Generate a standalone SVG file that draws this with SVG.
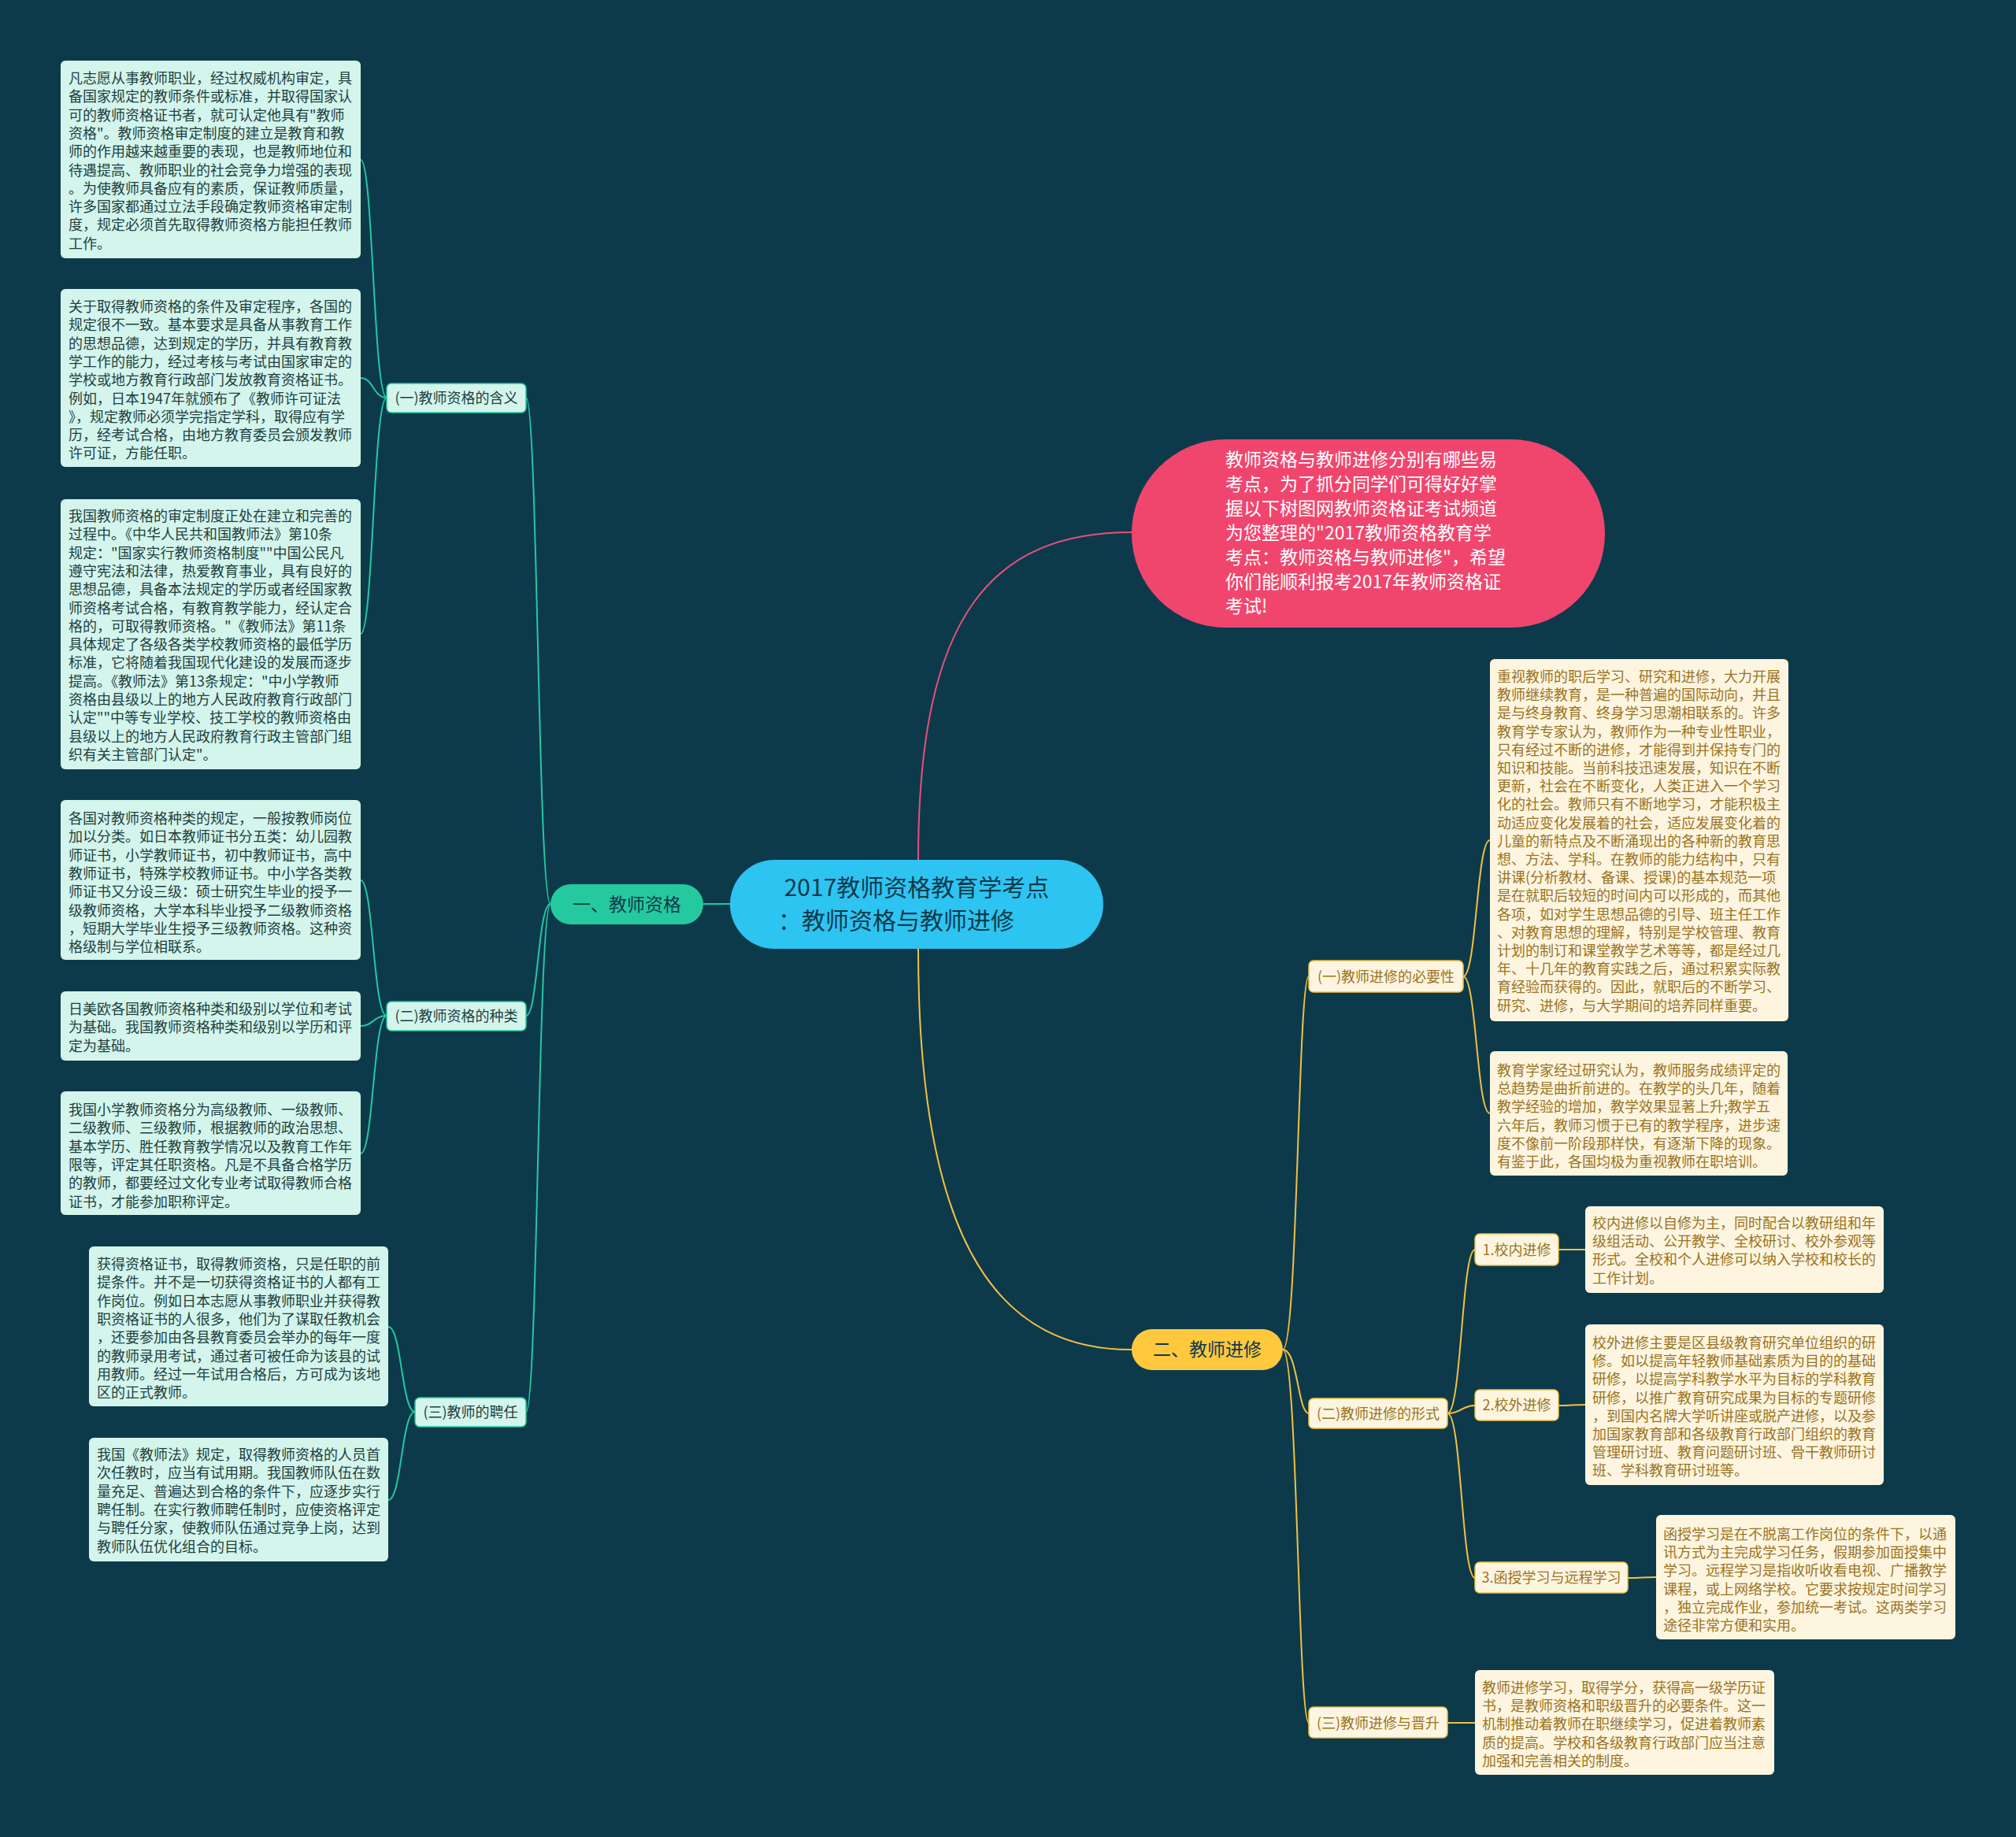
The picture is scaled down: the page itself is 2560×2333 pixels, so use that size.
<svg xmlns="http://www.w3.org/2000/svg" width="2560" height="2333" viewBox="0 0 2560 2333">
<style>
text{font-family:"Noto Sans CJK SC","Noto Sans",sans-serif}
.bg{fill:#0d3a4b}
.lbox{fill:#d3f5ec}
.ltxt{font-size:18px;fill:#1f3f40}
.rbox{fill:#fdf5e0}
.rtxt{font-size:18px;fill:#9a7322}
.llab{fill:#d3f5ec;stroke:#25c7a0;stroke-width:1.5}
.rlab{fill:#fdf5e0;stroke:#f2c043;stroke-width:1.5}
.labt{font-size:18px;text-anchor:middle}
.gl{fill:none;stroke:#25c7a0;stroke-width:2}
.yl{fill:none;stroke:#f2c043;stroke-width:2}
.pl{fill:none;stroke:#e8507a;stroke-width:2}
</style>
<rect class="bg" x="0" y="0" width="2560" height="2333"/>
<g id="connectors">
<path class="pl" d="M1166 1092 C1166 780 1260 676 1437 676"/>
<path class="yl" d="M1166 1205 C1166 1600 1280 1714 1437 1714"/>
<path class="gl" d="M927 1148 L893 1148"/>
<path class="gl" d="M699 1148 C683 1148 683 505 668 505"/>
<path class="gl" d="M699 1148 C683 1148 683 1290 668 1290"/>
<path class="gl" d="M699 1148 C683 1148 683 1793 668 1793"/>
<path class="gl" d="M491 505 C474 505 474 203 458 203"/>
<path class="gl" d="M491 505 C474 505 474 480 458 480"/>
<path class="gl" d="M491 505 C474 505 474 805 458 805"/>
<path class="gl" d="M491 1290 C474 1290 474 1118 458 1118"/>
<path class="gl" d="M491 1290 C474 1290 474 1303 458 1303"/>
<path class="gl" d="M491 1290 C474 1290 474 1465 458 1465"/>
<path class="gl" d="M527 1793 C510 1793 510 1685 493 1685"/>
<path class="gl" d="M527 1793 C510 1793 510 1905 493 1905"/>
<path class="yl" d="M1629 1714 C1648 1714 1648 1240 1662 1240"/>
<path class="yl" d="M1629 1714 C1648 1714 1648 1795 1662 1795"/>
<path class="yl" d="M1629 1714 C1648 1714 1648 2188 1662 2188"/>
<path class="yl" d="M1858 1240 C1875 1240 1875 1067 1892 1067"/>
<path class="yl" d="M1858 1240 C1875 1240 1875 1414 1892 1414"/>
<path class="yl" d="M1838 1795 C1856 1795 1856 1587 1873 1587"/>
<path class="yl" d="M1838 1795 C1856 1795 1856 1785 1873 1785"/>
<path class="yl" d="M1838 1795 C1856 1795 1856 2004 1873 2004"/>
<path class="yl" d="M1979 1587 C1996 1587 1996 1587 2013 1587"/>
<path class="yl" d="M1979 1785 C1996 1785 1996 1784 2013 1784"/>
<path class="yl" d="M2067 2004 C2085 2004 2085 2003 2103 2003"/>
<path class="yl" d="M1838 2188 C1856 2188 1856 2188 1873 2188"/>
</g>
<g id="center">
<rect x="927" y="1092" width="474" height="113" rx="56.5" fill="#2ec4f2"/>
<text x="1164" y="1138" font-size="30" fill="#0d3a4b" text-anchor="middle">2017教师资格教育学考点</text>
<text x="988" y="1180" font-size="30" fill="#0d3a4b">：教师资格与教师进修</text>
</g>
<g id="intro">
<rect x="1437" y="558" width="601" height="239" rx="119.5" fill="#f0466e"/>
<text class="pt" x="1556" y="592" font-size="23" fill="#ffffff">
<tspan x="1556" dy="0">教师资格与教师进修分别有哪些易</tspan>
<tspan x="1556" dy="31">考点，为了抓分同学们可得好好掌</tspan>
<tspan x="1556" dy="31">握以下树图网教师资格证考试频道</tspan>
<tspan x="1556" dy="31">为您整理的"2017教师资格教育学</tspan>
<tspan x="1556" dy="31">考点：教师资格与教师进修"，希望</tspan>
<tspan x="1556" dy="31">你们能顺利报考2017年教师资格证</tspan>
<tspan x="1556" dy="31">考试!</tspan>
</text>
</g>
<g id="n1">
<rect x="699" y="1123" width="194" height="51" rx="25.5" fill="#25c9a0"/>
<text x="796" y="1157" font-size="23" fill="#0d3a4b" text-anchor="middle">一、教师资格</text>
</g>
<g id="n2">
<rect x="1437" y="1688" width="192" height="52" rx="26" fill="#ffc83d"/>
<text x="1533" y="1722" font-size="23" fill="#0d3a4b" text-anchor="middle">二、教师进修</text>
</g>
<g id="n1-1">
<rect class="llab" x="491" y="487" width="177" height="37" rx="6"/>
<text class="labt" x="579.5" y="512" fill="#1f3f40">(一)教师资格的含义</text>
</g>
<g id="n1-2">
<rect class="llab" x="491" y="1272" width="177" height="37" rx="6"/>
<text class="labt" x="579.5" y="1297" fill="#1f3f40">(二)教师资格的种类</text>
</g>
<g id="n1-3">
<rect class="llab" x="527" y="1775" width="141" height="37" rx="6"/>
<text class="labt" x="597.5" y="1800" fill="#1f3f40">(三)教师的聘任</text>
</g>
<g id="n2-1">
<rect class="rlab" x="1662" y="1220" width="196" height="40" rx="6"/>
<text class="labt" x="1760" y="1247" fill="#9a7322">(一)教师进修的必要性</text>
</g>
<g id="n2-2">
<rect class="rlab" x="1662" y="1776" width="176" height="38" rx="6"/>
<text class="labt" x="1750" y="1802" fill="#9a7322">(二)教师进修的形式</text>
</g>
<g id="n2-3">
<rect class="rlab" x="1662" y="2168" width="176" height="39" rx="6"/>
<text class="labt" x="1750" y="2195" fill="#9a7322">(三)教师进修与晋升</text>
</g>
<g id="n2-2-1">
<rect class="rlab" x="1873" y="1567" width="106" height="40" rx="6"/>
<text class="labt" x="1926" y="1594" fill="#9a7322">1.校内进修</text>
</g>
<g id="n2-2-2">
<rect class="rlab" x="1873" y="1765" width="106" height="39" rx="6"/>
<text class="labt" x="1926" y="1791" fill="#9a7322">2.校外进修</text>
</g>
<g id="n2-2-3">
<rect class="rlab" x="1873" y="1984" width="194" height="39" rx="6"/>
<text class="labt" x="1970" y="2010" fill="#9a7322">3.函授学习与远程学习</text>
</g>
<g id="b1">
<rect class="lbox" x="77" y="77" width="381" height="251" rx="6"/>
<text class="ltxt" y="106">
<tspan x="87" dy="0">凡志愿从事教师职业，经过权威机构审定，具</tspan>
<tspan x="87" dy="23.3">备国家规定的教师条件或标准，并取得国家认</tspan>
<tspan x="87" dy="23.3">可的教师资格证书者，就可认定他具有"教师</tspan>
<tspan x="87" dy="23.3">资格"。教师资格审定制度的建立是教育和教</tspan>
<tspan x="87" dy="23.3">师的作用越来越重要的表现，也是教师地位和</tspan>
<tspan x="87" dy="23.3">待遇提高、教师职业的社会竞争力增强的表现</tspan>
<tspan x="87" dy="23.3">。为使教师具备应有的素质，保证教师质量，</tspan>
<tspan x="87" dy="23.3">许多国家都通过立法手段确定教师资格审定制</tspan>
<tspan x="87" dy="23.3">度，规定必须首先取得教师资格方能担任教师</tspan>
<tspan x="87" dy="23.3">工作。</tspan>
</text>
</g>
<g id="b2">
<rect class="lbox" x="77" y="367" width="381" height="226" rx="6"/>
<text class="ltxt" y="396">
<tspan x="87" dy="0">关于取得教师资格的条件及审定程序，各国的</tspan>
<tspan x="87" dy="23.3">规定很不一致。基本要求是具备从事教育工作</tspan>
<tspan x="87" dy="23.3">的思想品德，达到规定的学历，并具有教育教</tspan>
<tspan x="87" dy="23.3">学工作的能力，经过考核与考试由国家审定的</tspan>
<tspan x="87" dy="23.3">学校或地方教育行政部门发放教育资格证书。</tspan>
<tspan x="87" dy="23.3">例如，日本1947年就颁布了《教师许可证法</tspan>
<tspan x="87" dy="23.3">》，规定教师必须学完指定学科，取得应有学</tspan>
<tspan x="87" dy="23.3">历，经考试合格，由地方教育委员会颁发教师</tspan>
<tspan x="87" dy="23.3">许可证，方能任职。</tspan>
</text>
</g>
<g id="b3">
<rect class="lbox" x="77" y="634" width="381" height="343" rx="6"/>
<text class="ltxt" y="662">
<tspan x="87" dy="0">我国教师资格的审定制度正处在建立和完善的</tspan>
<tspan x="87" dy="23.3">过程中。《中华人民共和国教师法》第10条</tspan>
<tspan x="87" dy="23.3">规定："国家实行教师资格制度""中国公民凡</tspan>
<tspan x="87" dy="23.3">遵守宪法和法律，热爱教育事业，具有良好的</tspan>
<tspan x="87" dy="23.3">思想品德，具备本法规定的学历或者经国家教</tspan>
<tspan x="87" dy="23.3">师资格考试合格，有教育教学能力，经认定合</tspan>
<tspan x="87" dy="23.3">格的，可取得教师资格。"《教师法》第11条</tspan>
<tspan x="87" dy="23.3">具体规定了各级各类学校教师资格的最低学历</tspan>
<tspan x="87" dy="23.3">标准，它将随着我国现代化建设的发展而逐步</tspan>
<tspan x="87" dy="23.3">提高。《教师法》第13条规定："中小学教师</tspan>
<tspan x="87" dy="23.3">资格由县级以上的地方人民政府教育行政部门</tspan>
<tspan x="87" dy="23.3">认定""中等专业学校、技工学校的教师资格由</tspan>
<tspan x="87" dy="23.3">县级以上的地方人民政府教育行政主管部门组</tspan>
<tspan x="87" dy="23.3">织有关主管部门认定"。</tspan>
</text>
</g>
<g id="b4">
<rect class="lbox" x="77" y="1016" width="381" height="203" rx="6"/>
<text class="ltxt" y="1046">
<tspan x="87" dy="0">各国对教师资格种类的规定，一般按教师岗位</tspan>
<tspan x="87" dy="23.3">加以分类。如日本教师证书分五类：幼儿园教</tspan>
<tspan x="87" dy="23.3">师证书，小学教师证书，初中教师证书，高中</tspan>
<tspan x="87" dy="23.3">教师证书，特殊学校教师证书。中小学各类教</tspan>
<tspan x="87" dy="23.3">师证书又分设三级：硕士研究生毕业的授予一</tspan>
<tspan x="87" dy="23.3">级教师资格，大学本科毕业授予二级教师资格</tspan>
<tspan x="87" dy="23.3">，短期大学毕业生授予三级教师资格。这种资</tspan>
<tspan x="87" dy="23.3">格级制与学位相联系。</tspan>
</text>
</g>
<g id="b5">
<rect class="lbox" x="77" y="1259" width="381" height="88" rx="6"/>
<text class="ltxt" y="1288">
<tspan x="87" dy="0">日美欧各国教师资格种类和级别以学位和考试</tspan>
<tspan x="87" dy="23.3">为基础。我国教师资格种类和级别以学历和评</tspan>
<tspan x="87" dy="23.3">定为基础。</tspan>
</text>
</g>
<g id="b6">
<rect class="lbox" x="77" y="1386" width="381" height="157" rx="6"/>
<text class="ltxt" y="1416">
<tspan x="87" dy="0">我国小学教师资格分为高级教师、一级教师、</tspan>
<tspan x="87" dy="23.3">二级教师、三级教师，根据教师的政治思想、</tspan>
<tspan x="87" dy="23.3">基本学历、胜任教育教学情况以及教育工作年</tspan>
<tspan x="87" dy="23.3">限等，评定其任职资格。凡是不具备合格学历</tspan>
<tspan x="87" dy="23.3">的教师，都要经过文化专业考试取得教师合格</tspan>
<tspan x="87" dy="23.3">证书，才能参加职称评定。</tspan>
</text>
</g>
<g id="b7">
<rect class="lbox" x="113" y="1583" width="380" height="203" rx="6"/>
<text class="ltxt" y="1612">
<tspan x="123" dy="0">获得资格证书，取得教师资格，只是任职的前</tspan>
<tspan x="123" dy="23.3">提条件。并不是一切获得资格证书的人都有工</tspan>
<tspan x="123" dy="23.3">作岗位。例如日本志愿从事教师职业并获得教</tspan>
<tspan x="123" dy="23.3">职资格证书的人很多，他们为了谋取任教机会</tspan>
<tspan x="123" dy="23.3">，还要参加由各县教育委员会举办的每年一度</tspan>
<tspan x="123" dy="23.3">的教师录用考试，通过者可被任命为该县的试</tspan>
<tspan x="123" dy="23.3">用教师。经过一年试用合格后，方可成为该地</tspan>
<tspan x="123" dy="23.3">区的正式教师。</tspan>
</text>
</g>
<g id="b8">
<rect class="lbox" x="113" y="1826" width="380" height="157" rx="6"/>
<text class="ltxt" y="1854">
<tspan x="123" dy="0">我国《教师法》规定，取得教师资格的人员首</tspan>
<tspan x="123" dy="23.3">次任教时，应当有试用期。我国教师队伍在数</tspan>
<tspan x="123" dy="23.3">量充足、普遍达到合格的条件下，应逐步实行</tspan>
<tspan x="123" dy="23.3">聘任制。在实行教师聘任制时，应使资格评定</tspan>
<tspan x="123" dy="23.3">与聘任分家，使教师队伍通过竞争上岗，达到</tspan>
<tspan x="123" dy="23.3">教师队伍优化组合的目标。</tspan>
</text>
</g>
<g id="r1">
<rect class="rbox" x="1892" y="837" width="379" height="460" rx="6"/>
<text class="rtxt" y="866">
<tspan x="1901" dy="0">重视教师的职后学习、研究和进修，大力开展</tspan>
<tspan x="1901" dy="23.2">教师继续教育，是一种普遍的国际动向，并且</tspan>
<tspan x="1901" dy="23.2">是与终身教育、终身学习思潮相联系的。许多</tspan>
<tspan x="1901" dy="23.2">教育学专家认为，教师作为一种专业性职业，</tspan>
<tspan x="1901" dy="23.2">只有经过不断的进修，才能得到并保持专门的</tspan>
<tspan x="1901" dy="23.2">知识和技能。当前科技迅速发展，知识在不断</tspan>
<tspan x="1901" dy="23.2">更新，社会在不断变化，人类正进入一个学习</tspan>
<tspan x="1901" dy="23.2">化的社会。教师只有不断地学习，才能积极主</tspan>
<tspan x="1901" dy="23.2">动适应变化发展着的社会，适应发展变化着的</tspan>
<tspan x="1901" dy="23.2">儿童的新特点及不断涌现出的各种新的教育思</tspan>
<tspan x="1901" dy="23.2">想、方法、学科。在教师的能力结构中，只有</tspan>
<tspan x="1901" dy="23.2">讲课(分析教材、备课、授课)的基本规范一项</tspan>
<tspan x="1901" dy="23.2">是在就职后较短的时间内可以形成的，而其他</tspan>
<tspan x="1901" dy="23.2">各项，如对学生思想品德的引导、班主任工作</tspan>
<tspan x="1901" dy="23.2">、对教育思想的理解，特别是学校管理、教育</tspan>
<tspan x="1901" dy="23.2">计划的制订和课堂教学艺术等等，都是经过几</tspan>
<tspan x="1901" dy="23.2">年、十几年的教育实践之后，通过积累实际教</tspan>
<tspan x="1901" dy="23.2">育经验而获得的。因此，就职后的不断学习、</tspan>
<tspan x="1901" dy="23.2">研究、进修，与大学期间的培养同样重要。</tspan>
</text>
</g>
<g id="r2">
<rect class="rbox" x="1892" y="1335" width="378" height="158" rx="6"/>
<text class="rtxt" y="1366">
<tspan x="1901" dy="0">教育学家经过研究认为，教师服务成绩评定的</tspan>
<tspan x="1901" dy="23.2">总趋势是曲折前进的。在教学的头几年，随着</tspan>
<tspan x="1901" dy="23.2">教学经验的增加，教学效果显著上升;教学五</tspan>
<tspan x="1901" dy="23.2">六年后，教师习惯于已有的教学程序，进步速</tspan>
<tspan x="1901" dy="23.2">度不像前一阶段那样快，有逐渐下降的现象。</tspan>
<tspan x="1901" dy="23.2">有鉴于此，各国均极为重视教师在职培训。</tspan>
</text>
</g>
<g id="r3">
<rect class="rbox" x="2013" y="1532" width="379" height="110" rx="6"/>
<text class="rtxt" y="1560">
<tspan x="2022" dy="0">校内进修以自修为主，同时配合以教研组和年</tspan>
<tspan x="2022" dy="23.2">级组活动、公开教学、全校研讨、校外参观等</tspan>
<tspan x="2022" dy="23.2">形式。全校和个人进修可以纳入学校和校长的</tspan>
<tspan x="2022" dy="23.2">工作计划。</tspan>
</text>
</g>
<g id="r4">
<rect class="rbox" x="2013" y="1682" width="379" height="204" rx="6"/>
<text class="rtxt" y="1712">
<tspan x="2022" dy="0">校外进修主要是区县级教育研究单位组织的研</tspan>
<tspan x="2022" dy="23.2">修。如以提高年轻教师基础素质为目的的基础</tspan>
<tspan x="2022" dy="23.2">研修，以提高学科教学水平为目标的学科教育</tspan>
<tspan x="2022" dy="23.2">研修，以推广教育研究成果为目标的专题研修</tspan>
<tspan x="2022" dy="23.2">，到国内名牌大学听讲座或脱产进修，以及参</tspan>
<tspan x="2022" dy="23.2">加国家教育部和各级教育行政部门组织的教育</tspan>
<tspan x="2022" dy="23.2">管理研讨班、教育问题研讨班、骨干教师研讨</tspan>
<tspan x="2022" dy="23.2">班、学科教育研讨班等。</tspan>
</text>
</g>
<g id="r5">
<rect class="rbox" x="2103" y="1924" width="380" height="158" rx="6"/>
<text class="rtxt" y="1955">
<tspan x="2112" dy="0">函授学习是在不脱离工作岗位的条件下，以通</tspan>
<tspan x="2112" dy="23.2">讯方式为主完成学习任务，假期参加面授集中</tspan>
<tspan x="2112" dy="23.2">学习。远程学习是指收听收看电视、广播教学</tspan>
<tspan x="2112" dy="23.2">课程，或上网络学校。它要求按规定时间学习</tspan>
<tspan x="2112" dy="23.2">，独立完成作业，参加统一考试。这两类学习</tspan>
<tspan x="2112" dy="23.2">途径非常方便和实用。</tspan>
</text>
</g>
<g id="r6">
<rect class="rbox" x="1873" y="2121" width="380" height="133" rx="6"/>
<text class="rtxt" y="2150">
<tspan x="1882" dy="0">教师进修学习，取得学分，获得高一级学历证</tspan>
<tspan x="1882" dy="23.2">书，是教师资格和职级晋升的必要条件。这一</tspan>
<tspan x="1882" dy="23.2">机制推动着教师在职继续学习，促进着教师素</tspan>
<tspan x="1882" dy="23.2">质的提高。学校和各级教育行政部门应当注意</tspan>
<tspan x="1882" dy="23.2">加强和完善相关的制度。</tspan>
</text>
</g>
</svg>
